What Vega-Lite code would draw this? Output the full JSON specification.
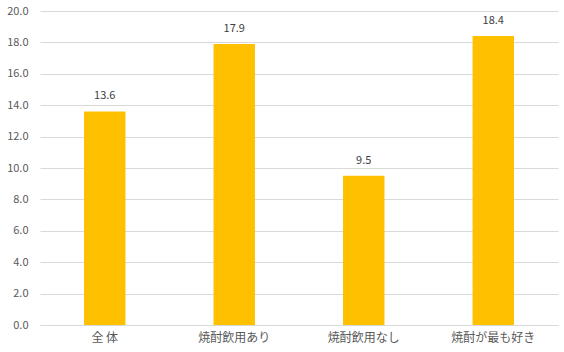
{
  "$schema": "https://vega.github.io/schema/vega-lite/v6.json",
  "autosize": {"type": "none"},
  "padding": {"left": 40, "top": 11, "right": 6, "bottom": 27},
  "width": 518,
  "height": 314,
  "background": "white",
  "data": {"values": [
    {"cat": "全 体", "v": 13.6},
    {"cat": "焼酎飲用あり", "v": 17.9},
    {"cat": "焼酎飲用なし", "v": 9.5},
    {"cat": "焼酎が最も好き", "v": 18.4}
  ]},
  "config": {
    "font": "Noto Sans CJK JP",
    "view": {"stroke": null},
    "axis": {"labelFont": "Noto Sans CJK JP", "labelColor": "#595959", "labelFontSize": 11}
  },
  "encoding": {
    "x": {"field": "cat", "type": "nominal", "sort": null,
      "scale": {"paddingInner": 0.68, "paddingOuter": 0.34},
      "axis": {"title": null, "labelAngle": 0, "labelFontSize": 12, "ticks": false, "domain": true, "domainColor": "#d9d9d9", "labelPadding": 7}},
    "y": {"field": "v", "type": "quantitative",
      "scale": {"domain": [0, 20], "nice": false},
      "axis": {"title": null, "values": [0,2,4,6,8,10,12,14,16,18,20], "format": ".1f", "labelOverlap": false, "ticks": false, "domain": false, "gridColor": "#d9d9d9", "labelPadding": 12}}
  },
  "layer": [
    {"mark": {"type": "bar", "color": "#FFC000"}},
    {"mark": {"type": "text", "dy": -10, "baseline": "bottom", "fontSize": 11, "color": "#404040", "font": "Noto Sans CJK JP"},
     "encoding": {"text": {"field": "v", "type": "quantitative", "format": ".1f"}}}
  ]
}
